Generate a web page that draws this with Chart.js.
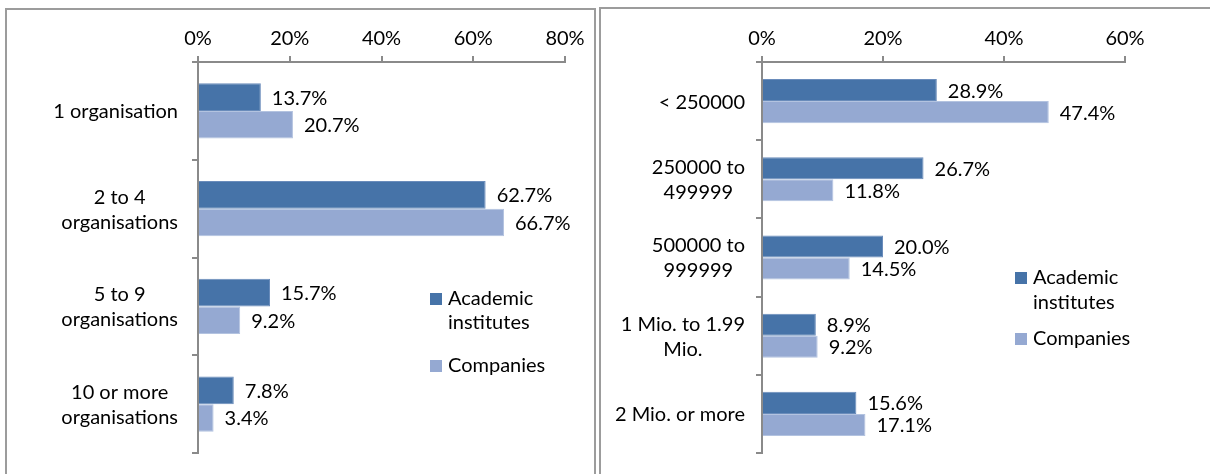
<!DOCTYPE html>
<html>
<head>
<meta charset="utf-8">
<script src="https://cdn.jsdelivr.net/npm/chart.js@4"></script>
<style>
  html, body { margin: 0; padding: 0; background: #fff; overflow: hidden; }
  body { width: 1210px; height: 474px; position: relative; }
  .panel { position: absolute; border: 2px solid #9c9c9c; box-sizing: border-box; height: 490px; background: #fff; }
  #panelLeft { left: 5px; top: 8px; width: 591px; }
  #panelRight { left: 599px; top: 7px; width: 630px; }
  canvas { position: absolute; left: 0; top: 0; }
</style>
</head>
<body>
<div class="panel" id="panelLeft"><canvas id="orgChart" width="587" height="470"></canvas></div>
<div class="panel" id="panelRight"><canvas id="budgetChart" width="609" height="470"></canvas></div>
<script>
// Number of partner organisations
const orgCategories = ['1 organisation', ['2 to 4', 'organisations'], ['5 to 9', 'organisations'], ['10 or more', 'organisations']];
const orgAcademic = [13.7, 62.7, 15.7, 7.8];
const orgCompanies = [20.7, 66.7, 9.2, 3.4];
const orgTicks = [0, 20, 40, 60, 80];

// Project budget
const budgetCategories = ['< 250000', ['250000 to', '499999'], ['500000 to', '999999'], ['1 Mio. to 1.99', 'Mio.'], '2 Mio. or more'];
const budgetAcademic = [28.9, 26.7, 20.0, 8.9, 15.6];
const budgetCompanies = [47.4, 11.8, 14.5, 9.2, 17.1];
const budgetTicks = [0, 20, 40, 60];

const seriesNames = [['Academic', 'institutes'], ['Companies']];
const DARK = '#4673a8';
const LIGHT = '#95a9d2';
const AXIS = '#8a8a8a';
const FONT = 'Lato, "Open Sans", sans-serif';
const FONT_SIZE = 20;

// value labels to the right of every bar
const valueLabels = {
    id: 'valueLabels',
    afterDatasetsDraw(chart) {
        const ctx = chart.ctx;
        ctx.save();
        ctx.font = FONT_SIZE + 'px ' + FONT;
        ctx.fillStyle = '#000';
        ctx.textAlign = 'left';
        ctx.textBaseline = 'middle';
        chart.data.datasets.forEach((ds, di) => {
            chart.getDatasetMeta(di).data.forEach((bar, i) => {
                ctx.fillText(ds.data[i].toFixed(1) + '%', bar.x + 11, bar.y + 1);
            });
        });
        ctx.restore();
    }
};

// category labels: block right-aligned to the axis, lines centred in the block
const categoryLabels = {
    id: 'categoryLabels',
    afterDraw(chart, args, opts) {
        const ctx = chart.ctx;
        const yScale = chart.scales.y;
        const lh = opts.lineHeight;
        ctx.save();
        ctx.font = FONT_SIZE + 'px ' + FONT;
        ctx.fillStyle = '#000';
        ctx.textAlign = 'center';
        ctx.textBaseline = 'middle';
        chart.data.labels.forEach((label, i) => {
            const lines = Array.isArray(label) ? label : [label];
            const w = Math.max(...lines.map(l => ctx.measureText(l).width));
            const cx = opts.right - w / 2;
            const cy = yScale.getPixelForTick(i);
            lines.forEach((l, k) => {
                ctx.fillText(l, cx, cy + (k - (lines.length - 1) / 2) * lh + 1);
            });
        });
        ctx.restore();
    }
};

// legend with square markers and wrapped series names
const boxLegend = {
    id: 'boxLegend',
    afterDraw(chart, args, opts) {
        const ctx = chart.ctx;
        ctx.save();
        ctx.font = FONT_SIZE + 'px ' + FONT;
        ctx.textAlign = 'left';
        ctx.textBaseline = 'middle';
        let y = opts.y;
        chart.data.datasets.forEach((ds, di) => {
            const lines = seriesNames[di];
            ctx.fillStyle = ds.backgroundColor;
            ctx.fillRect(opts.x, y - 6, 12, 12);
            ctx.fillStyle = '#000';
            lines.forEach((l, k) => ctx.fillText(l, opts.x + 18, y + k * opts.lineHeight));
            y += (lines.length - 1) * opts.lineHeight + opts.gap;
        });
        ctx.restore();
    }
};

function makeChart(id, labels, academic, companies, ticks, area, legendPos, labelRight) {
    const canvas = document.getElementById(id);
    return new Chart(canvas.getContext('2d'), {
        type: 'bar',
        data: {
            labels: labels,
            datasets: [{
                label: 'Academic institutes',
                data: academic,
                backgroundColor: DARK,
                borderColor: '#6a8cbb',
                borderWidth: 1,
                categoryPercentage: 0.564,
                barPercentage: 1.0
            }, {
                label: 'Companies',
                data: companies,
                backgroundColor: LIGHT,
                borderColor: '#b3c3e0',
                borderWidth: 1,
                categoryPercentage: 0.564,
                barPercentage: 1.0
            }]
        },
        plugins: [valueLabels, categoryLabels, boxLegend],
        options: {
            indexAxis: 'y',
            responsive: false,
            animation: false,
            layout: {
                padding: {
                    left: 0,
                    top: 0,
                    right: canvas.width - area.right,
                    bottom: canvas.height - area.bottom
                }
            },
            plugins: {
                legend: { display: false },
                tooltip: { enabled: false },
                categoryLabels: { right: labelRight, lineHeight: 25 },
                boxLegend: legendPos
            },
            scales: {
                x: {
                    position: 'top',
                    min: ticks[0],
                    max: ticks[ticks.length - 1],
                    afterBuildTicks(scale) {
                        scale.ticks = ticks.map(v => ({ value: v }));
                    },
                    afterFit(scale) { scale.height = area.top; },
                    border: { color: AXIS, width: 2 },
                    grid: { drawOnChartArea: false, color: AXIS, lineWidth: 2, tickLength: 6 },
                    ticks: {
                        color: '#000',
                        padding: 5,
                        font: { family: FONT, size: FONT_SIZE },
                        callback: v => v + '%'
                    }
                },
                y: {
                    afterFit(scale) { scale.width = area.left; },
                    border: { color: AXIS, width: 2 },
                    grid: { drawOnChartArea: false, color: AXIS, lineWidth: 2, tickLength: 6, offset: true },
                    ticks: { display: false }
                }
            }
        }
    });
}

makeChart('orgChart', orgCategories, orgAcademic, orgCompanies, orgTicks,
    { left: 191, right: 558, top: 52, bottom: 443 },
    { x: 423, y: 289, lineHeight: 24, gap: 43 }, 171);

makeChart('budgetChart', budgetCategories, budgetAcademic, budgetCompanies, budgetTicks,
    { left: 161, right: 524, top: 53, bottom: 444 },
    { x: 414, y: 269, lineHeight: 25, gap: 36 }, 144);
</script>
</body>
</html>
